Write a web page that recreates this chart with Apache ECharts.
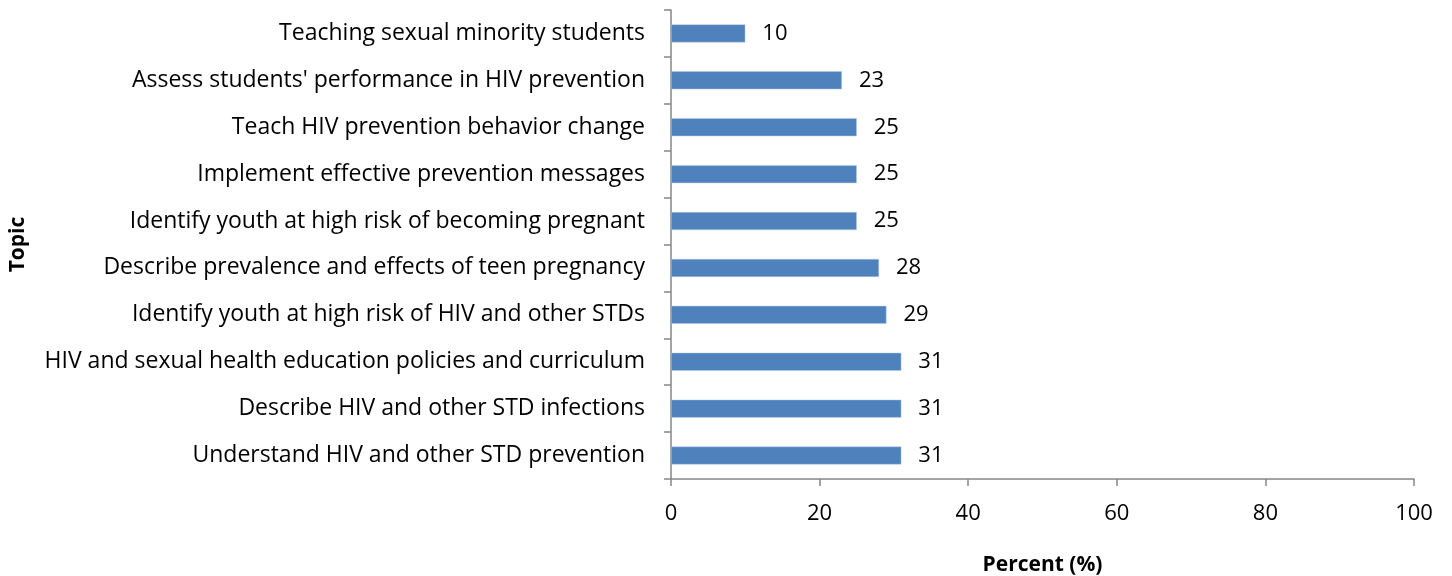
<!DOCTYPE html>
<html>
<head>
<meta charset="utf-8">
<script src="https://cdn.jsdelivr.net/npm/echarts@6/dist/echarts.min.js"></script>
<style>
  html, body { margin: 0; padding: 0; background: #fff; }
  #chart { width: 1452px; height: 576px; }
</style>
</head>
<body>
<div id="chart"></div>
<script>
// Topics listed bottom-to-top (category axis order)
const topics = [
  "Understand HIV and other STD prevention",
  "Describe HIV and other STD infections",
  "HIV and sexual health education policies and curriculum",
  "Identify youth at high risk of HIV and other STDs",
  "Describe prevalence and effects of teen pregnancy",
  "Identify youth at high risk of becoming pregnant",
  "Implement effective prevention messages",
  "Teach HIV prevention behavior change",
  "Assess students' performance in HIV prevention",
  "Teaching sexual minority students"
];
const percents = [31, 31, 31, 29, 28, 25, 25, 25, 23, 10];

const FONT = "'Open Sans', sans-serif";
const chart = echarts.init(document.getElementById("chart"), null, { renderer: "canvas" });
chart.setOption({
  animation: false,
  textStyle: { fontFamily: FONT },
  grid: {
    left: 671, right: 38, top: 10, bottom: 97,
    containLabel: false,
    outerBoundsMode: "none"
  },
  xAxis: {
    type: "value",
    min: 0, max: 100, interval: 20,
    name: "Percent (%)",
    nameLocation: "middle",
    nameGap: 76,
    nameTextStyle: { fontFamily: FONT, fontSize: 21, fontWeight: "bold", color: "#000" },
    axisLine: { show: true, lineStyle: { color: "#868686", width: 1.5 } },
    axisTick: { show: true, length: 7, lineStyle: { color: "#868686", width: 1.5 } },
    axisLabel: { fontFamily: FONT, fontSize: 22, color: "#000", margin: 24 },
    splitLine: { show: false }
  },
  yAxis: {
    type: "category",
    data: topics,
    name: "Topic",
    nameLocation: "middle",
    nameGap: 642,
    nameRotate: 90,
    nameTextStyle: { fontFamily: FONT, fontSize: 21, fontWeight: "bold", color: "#000" },
    axisLine: { show: true, lineStyle: { color: "#868686", width: 1.5 } },
    axisTick: { show: true, length: 7, alignWithLabel: false, lineStyle: { color: "#868686", width: 1.5 } },
    axisLabel: { fontFamily: FONT, fontSize: 23, color: "#000", margin: 26, padding: [3, 0, 0, 0] }
  },
  series: [{
    type: "bar",
    data: percents,
    barWidth: 18,
    itemStyle: { color: "#4f81bd", borderColor: "#b9cde5", borderWidth: 0.5 },
    label: {
      show: true,
      position: "right",
      distance: 17,
      fontFamily: FONT,
      fontSize: 22,
      color: "#000",
      padding: [3, 0, 0, 0]
    }
  }]
});
</script>
</body>
</html>
